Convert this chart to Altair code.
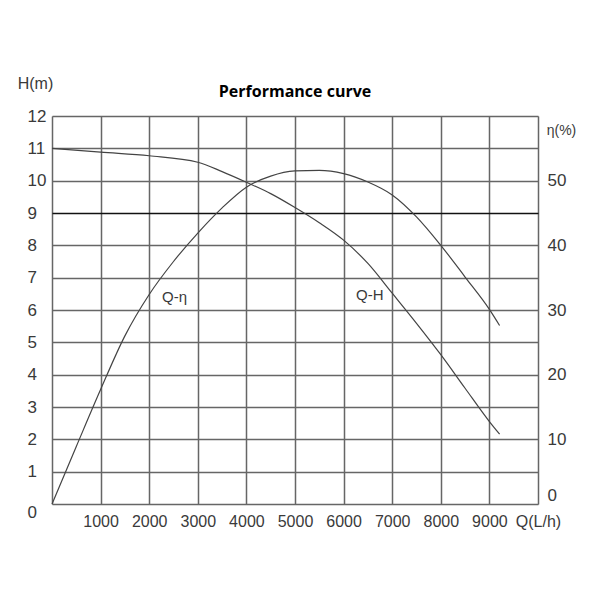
import altair as alt
import pandas as pd

# Q-H curve (flow L/h, head m)
qh_q = [0, 1000, 2000, 3000, 3500, 4000, 4500, 5000, 5500, 6000, 6500, 7000, 7500, 8000, 8500, 9000, 9210]
qh_h = [11.0, 10.88, 10.77, 10.57, 10.28, 9.95, 9.6, 9.17, 8.70, 8.16, 7.44, 6.52, 5.59, 4.62, 3.58, 2.55, 2.16]

# Q-eta curve (flow L/h, efficiency %)
qe_q = [0, 500, 1000, 1500, 2000, 2500, 3000, 3500, 4000, 4500, 5000, 5500, 6000, 6500, 7000, 7500, 8000, 8500, 9000, 9210]
qe_e = [0, 8.9, 17.7, 26.0, 32.4, 37.5, 41.9, 45.8, 49.0, 50.7, 51.5, 51.6, 51.1, 49.8, 47.8, 44.4, 40.0, 35.1, 30.1, 27.6]

# curve labels
lab_text = ["Q-η", "Q-H"]
lab_q = [2520, 6540]
lab_h = [6.4, 6.45]

x_ticks = [0, 1000, 2000, 3000, 4000, 5000, 6000, 7000, 8000, 9000, 10000]
h_ticks = list(range(0, 13))
e_ticks = [0, 10, 20, 30, 40, 50]

FONT = "Liberation Sans, Arial, sans-serif"
GRID = "#666666"
LINE = "#444444"
TXT = "#3a3a3a"

df_h = pd.DataFrame({"Q": qh_q, "H": qh_h})
df_e = pd.DataFrame({"Q": qe_q, "E": qe_e})
df_l = pd.DataFrame({"t": lab_text, "Q": lab_q, "H": lab_h})

xscale = alt.Scale(domain=[0, 10000], nice=False, zero=False)
hscale = alt.Scale(domain=[0, 12], nice=False)
escale = alt.Scale(domain=[0, 60], nice=False)

x_axis = alt.Axis(
    values=x_ticks, grid=True, gridColor=GRID, gridWidth=1.5, gridOpacity=1,
    domain=False, ticks=False, labelPadding=9,
    labelExpr="datum.value == 0 ? '' : (datum.value == 10000 ? 'Q(L/h)' : datum.label)",
    labelFont=FONT, labelFontSize=16, labelColor=TXT, title=None,
    format="d", labelFlush=False, labelOverlap=False,
)

h_axis = alt.Axis(
    values=h_ticks, grid=True, gridOpacity=1,
    gridWidth={"condition": {"test": "datum.value == 9", "value": 1.3}, "value": 1.5},
    gridColor={"condition": {"test": "datum.value == 9", "value": "#111111"}, "value": GRID},
    domain=False, ticks=False, labelAlign="left", labelPadding=25,
    labelBaseline={"condition": {"test": "datum.value == 0", "value": "top"}, "value": "middle"},
    labelFont=FONT, labelFontSize=17, labelColor=TXT,
    title="H(m)", titleAngle=0, titleX=-17, titleY=-33, titleAlign="center",
    titleBaseline="middle", titleFont=FONT, titleFontSize=16, titleFontWeight="normal",
    titleColor=TXT, labelFlush=False, labelOverlap=False,
)

e_axis = alt.Axis(
    values=e_ticks, orient="right", grid=False,
    domain=False, ticks=False, labelAlign="left", labelPadding=9,
    labelBaseline={"condition": {"test": "datum.value == 0", "value": "bottom"}, "value": "middle"},
    labelFont=FONT, labelFontSize=17, labelColor=TXT,
    title="η(%)", titleAngle=0, titleX=23, titleY=14, titleAlign="center",
    titleBaseline="middle", titleFont=FONT, titleFontSize=14, titleFontWeight="normal",
    titleColor=TXT, labelFlush=False, labelOverlap=False,
)

h_line = alt.Chart(df_h).mark_line(color=LINE, strokeWidth=1.2, interpolate="monotone").encode(
    x=alt.X("Q:Q", scale=xscale, axis=x_axis),
    y=alt.Y("H:Q", scale=hscale, axis=h_axis),
)

h_text = alt.Chart(df_l).mark_text(font=FONT, fontSize=15, color=TXT).encode(
    x=alt.X("Q:Q", scale=xscale, axis=x_axis),
    y=alt.Y("H:Q", scale=hscale, axis=h_axis),
    text="t:N",
)

e_line = alt.Chart(df_e).mark_line(color=LINE, strokeWidth=1.2, interpolate="monotone").encode(
    x=alt.X("Q:Q", scale=xscale, axis=x_axis),
    y=alt.Y("E:Q", scale=escale, axis=e_axis),
)

chart = alt.layer(h_line + h_text, e_line).resolve_scale(y="independent").properties(
    width=486, height=388,
    autosize=alt.AutoSizeParams(type="none"),
    padding={"left": 44, "top": 108, "right": 54, "bottom": 88},
    title=alt.TitleParams("Performance curve", font="Open Sans", fontSize=16,
                          fontWeight="bold", color="#000", anchor="middle", offset=14, dy=39),
).configure_view(stroke=GRID, strokeWidth=1.5).configure(background="white")

chart.save("out.html", embed_options={"renderer": "svg", "actions": False})
